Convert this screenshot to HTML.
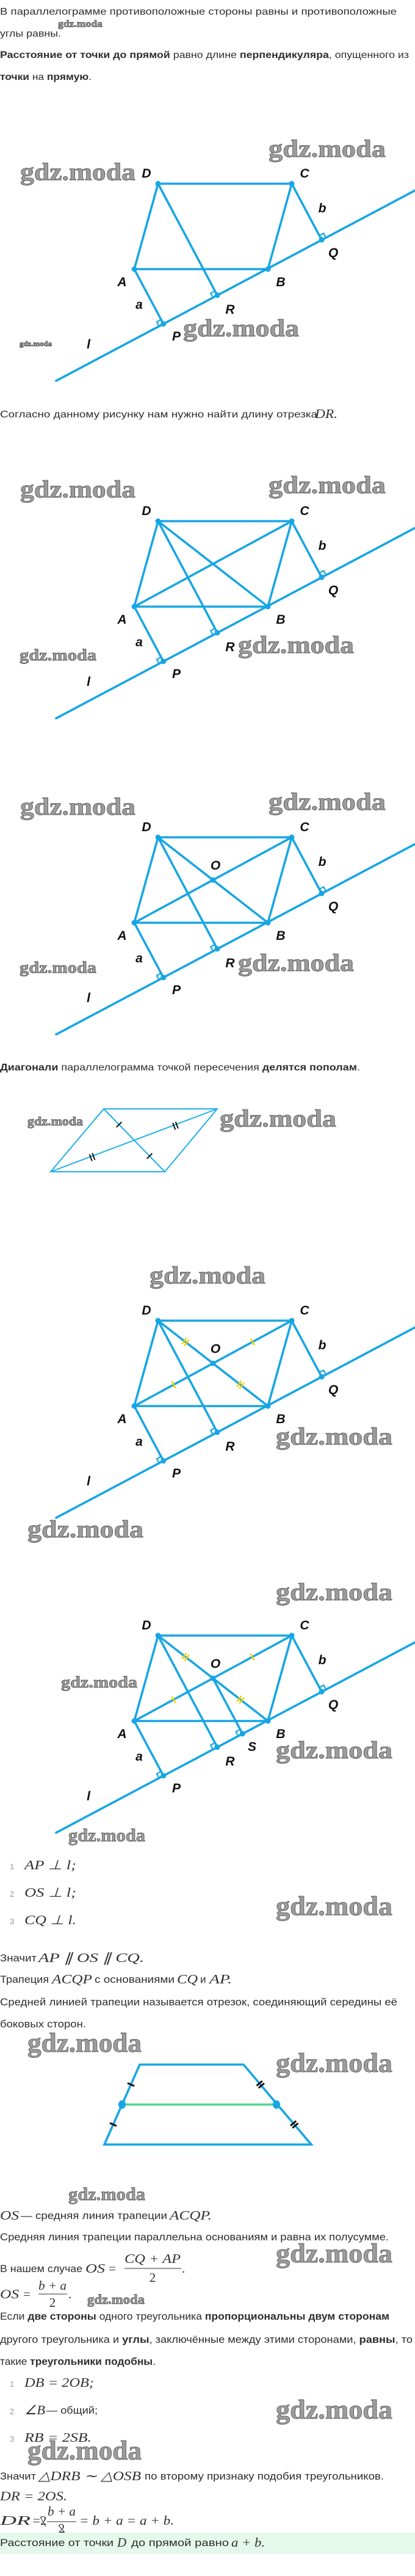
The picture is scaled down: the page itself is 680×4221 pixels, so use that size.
<!DOCTYPE html>
<html><head><meta charset="utf-8"><style>
html,body{margin:0;padding:0;background:#fff;}
svg{display:block;}
.t{font-family:"Liberation Sans",sans-serif;font-size:16px;fill:#2e2e2e;}
.tl{font-family:"Liberation Sans",sans-serif;font-size:17px;fill:#2e2e2e;}
.b{font-weight:bold;}
.m{font-family:"Liberation Serif",serif;font-style:italic;font-size:21px;fill:#333;}
.mr{font-family:"Liberation Serif",serif;font-size:21px;fill:#333;}
.n{font-family:"Liberation Sans",sans-serif;font-size:13px;fill:#999;}
.wm{font-family:"Liberation Serif",serif;font-weight:bold;fill:#9c9c9c;stroke:#4a4a4a;stroke-width:0.7;}
.lb{font-family:"Liberation Sans",sans-serif;font-style:italic;font-weight:bold;font-size:21px;fill:#111;text-anchor:middle;}
.ln{stroke:#17a6e4;stroke-width:3.6;fill:none;stroke-linecap:round;}
.sq{stroke:#17a6e4;stroke-width:2.2;fill:none;}
.dot{fill:#17a6e4;}
.yt{stroke:#f2d000;stroke-width:2.6;}
</style></head><body>
<svg width="680" height="4221" viewBox="0 0 680 4221" xmlns="http://www.w3.org/2000/svg">
<defs>
<g id="fb">
<line class="ln" x1="92" y1="624" x2="682" y2="311"/>
<polygon class="ln" points="259,301 478,301 439,441 220,441"/>
<line class="ln" x1="220" y1="441" x2="267.7" y2="530.7"/>
<line class="ln" x1="259" y1="301" x2="356" y2="483.8"/>
<line class="ln" x1="478" y1="301" x2="527" y2="393"/>
<polyline class="sq" points="260.6,534.5 256.9,527.4 264,523.6"/>
<polyline class="sq" points="348.9,487.6 345.2,480.5 352.3,476.7"/>
<polyline class="sq" points="534.1,389.3 530.3,382.2 523.3,385.9"/>
<circle class="dot" cx="259" cy="301" r="4.5"/><circle class="dot" cx="478" cy="301" r="4.5"/>
<circle class="dot" cx="220" cy="441" r="4.5"/><circle class="dot" cx="439" cy="441" r="4.5"/>
<circle class="dot" cx="267.7" cy="530.7" r="4.5"/><circle class="dot" cx="356" cy="483.8" r="4.5"/>
<circle class="dot" cx="527" cy="393" r="4.5"/>
</g>
<g id="fd">
<line class="ln" x1="220" y1="441" x2="478" y2="301"/>
<line class="ln" x1="259" y1="301" x2="439" y2="441"/>
</g>
<g id="fy">
<line class="yt" x1="305.7" y1="329.8" x2="298.3" y2="339.2"/>
<line class="yt" x1="309.7" y1="332.8" x2="302.3" y2="342.2"/>
<line class="yt" x1="395.7" y1="399.8" x2="388.3" y2="409.2"/>
<line class="yt" x1="399.7" y1="402.8" x2="392.3" y2="412.2"/>
<line class="yt" x1="281.6" y1="400.7" x2="287.4" y2="411.3"/>
<line class="yt" x1="410.6" y1="330.7" x2="416.4" y2="341.3"/>
</g>
</defs>

<!-- top text -->
<text class="t" x="0" y="24" textLength="650" lengthAdjust="spacingAndGlyphs">В параллелограмме противоположные стороны равны и противоположные</text>
<text class="t" x="0" y="60" textLength="100" lengthAdjust="spacingAndGlyphs">углы равны.</text>
<text class="t" x="0" y="95" textLength="670" lengthAdjust="spacingAndGlyphs"><tspan class="b">Расстояние от точки до прямой</tspan> равно длине <tspan class="b">перпендикуляра</tspan>, опущенного из</text>
<text class="t" x="0" y="131" textLength="150" lengthAdjust="spacingAndGlyphs"><tspan class="b">точки</tspan> на <tspan class="b">прямую</tspan>.</text>

<!-- fig1 -->
<use href="#fb"/>
<g>
<text class="lb" x="240" y="291">D</text><text class="lb" x="499" y="291">C</text>
<text class="lb" x="528" y="348">b</text><text class="lb" x="546" y="421">Q</text>
<text class="lb" x="200" y="469">A</text><text class="lb" x="460" y="469">B</text>
<text class="lb" x="228" y="506">a</text><text class="lb" x="377" y="514">R</text>
<text class="lb" x="289" y="558">P</text><text class="lb" x="145" y="571">l</text>
</g>

<text class="t" x="0" y="684" textLength="520" lengthAdjust="spacingAndGlyphs">Согласно данному рисунку нам нужно найти длину отрезка </text>
<text class="m" x="516" y="685" textLength="37" lengthAdjust="spacingAndGlyphs">DR.</text>

<!-- fig2 -->
<use href="#fb" y="553"/><use href="#fd" y="553"/>
<g transform="translate(0,553)">
<text class="lb" x="240" y="291">D</text><text class="lb" x="499" y="291">C</text>
<text class="lb" x="528" y="348">b</text><text class="lb" x="546" y="421">Q</text>
<text class="lb" x="200" y="469">A</text><text class="lb" x="460" y="469">B</text>
<text class="lb" x="228" y="506">a</text><text class="lb" x="377" y="514">R</text>
<text class="lb" x="289" y="558">P</text><text class="lb" x="145" y="571">l</text>
</g>

<!-- fig3 -->
<use href="#fb" y="1071"/><use href="#fd" y="1071"/>
<circle class="dot" cx="349" cy="1442" r="4.5"/>
<g transform="translate(0,1071)">
<text class="lb" x="240" y="291">D</text><text class="lb" x="499" y="291">C</text>
<text class="lb" x="528" y="348">b</text><text class="lb" x="546" y="421">Q</text>
<text class="lb" x="200" y="469">A</text><text class="lb" x="460" y="469">B</text>
<text class="lb" x="228" y="506">a</text><text class="lb" x="377" y="514">R</text>
<text class="lb" x="289" y="558">P</text><text class="lb" x="145" y="571">l</text>
<text class="lb" x="353" y="354">O</text>
</g>

<text class="t" x="0" y="1754" textLength="590" lengthAdjust="spacingAndGlyphs"><tspan class="b">Диагонали</tspan> параллелограмма точкой пересечения <tspan class="b">делятся пополам</tspan>.</text>

<!-- small parallelogram -->
<g stroke="#1fb0e8" stroke-width="2" fill="none">
<polygon points="170,1817 356,1817 270,1920 83,1920"/>
<line x1="83" y1="1920" x2="356" y2="1817"/>
<line x1="170" y1="1817" x2="270" y2="1920"/>
</g>
<g stroke="#111" stroke-width="2">
<line x1="199.3" y1="1838.5" x2="190.7" y2="1847"/>
<line x1="249.3" y1="1890" x2="240.7" y2="1898.5"/>
<line x1="151.2" y1="1889.5" x2="155.4" y2="1900.7"/>
<line x1="146.6" y1="1891.3" x2="150.8" y2="1902.5"/>
<line x1="287.7" y1="1838" x2="291.9" y2="1849.2"/>
<line x1="283.1" y1="1839.8" x2="287.3" y2="1851"/>
</g>

<!-- fig4 -->
<use href="#fb" y="1863"/><use href="#fd" y="1863"/><use href="#fy" y="1863"/>
<circle class="dot" cx="349" cy="2234" r="4.5"/>
<g transform="translate(0,1863)">
<text class="lb" x="240" y="291">D</text><text class="lb" x="499" y="291">C</text>
<text class="lb" x="528" y="348">b</text><text class="lb" x="546" y="421">Q</text>
<text class="lb" x="200" y="469">A</text><text class="lb" x="460" y="469">B</text>
<text class="lb" x="228" y="506">a</text><text class="lb" x="377" y="514">R</text>
<text class="lb" x="289" y="558">P</text><text class="lb" x="145" y="571">l</text>
<text class="lb" x="353" y="354">O</text>
</g>

<!-- fig5 -->
<use href="#fb" y="2379"/><use href="#fd" y="2379"/><use href="#fy" y="2379"/>
<g transform="translate(0,2379)">
<line class="ln" x1="349" y1="371" x2="397.3" y2="461.9"/>
<polyline class="sq" points="390.2,465.7 386.5,458.6 393.6,454.8"/>
<circle class="dot" cx="349" cy="371" r="4.5"/>
<circle class="dot" cx="397.3" cy="461.9" r="4.5"/>
<text class="lb" x="240" y="291">D</text><text class="lb" x="499" y="291">C</text>
<text class="lb" x="528" y="348">b</text><text class="lb" x="546" y="421">Q</text>
<text class="lb" x="200" y="469">A</text><text class="lb" x="460" y="469">B</text>
<text class="lb" x="228" y="506">a</text><text class="lb" x="377" y="514">R</text>
<text class="lb" x="289" y="558">P</text><text class="lb" x="145" y="571">l</text>
<text class="lb" x="353" y="354">O</text><text class="lb" x="413" y="490">S</text>
</g>

<!-- list 1 -->
<text class="n" x="16" y="3063">1</text><text class="m" x="40" y="3063" textLength="85" lengthAdjust="spacingAndGlyphs">AP  ⊥  l;</text>
<text class="n" x="16" y="3108">2</text><text class="m" x="40" y="3108" textLength="85" lengthAdjust="spacingAndGlyphs">OS  ⊥  l;</text>
<text class="n" x="16" y="3153">3</text><text class="m" x="40" y="3153" textLength="85" lengthAdjust="spacingAndGlyphs">CQ  ⊥  l.</text>

<text class="tl" x="0" y="3214" textLength="60" lengthAdjust="spacingAndGlyphs">Значит</text>
<text class="m" x="63" y="3215" textLength="173" lengthAdjust="spacingAndGlyphs">AP ∥ OS ∥ CQ.</text>
<text class="tl" x="0" y="3249" textLength="80" lengthAdjust="spacingAndGlyphs">Трапеция</text>
<text class="m" x="85" y="3250" textLength="66" lengthAdjust="spacingAndGlyphs">ACQP</text>
<text class="tl" x="155" y="3249" textLength="131" lengthAdjust="spacingAndGlyphs">с основаниями</text>
<text class="m" x="290" y="3250" textLength="34" lengthAdjust="spacingAndGlyphs">CQ</text>
<text class="tl" x="328" y="3249">и</text>
<text class="m" x="343" y="3250" textLength="37" lengthAdjust="spacingAndGlyphs">AP.</text>
<text class="tl" x="0" y="3286" textLength="651" lengthAdjust="spacingAndGlyphs">Средней линией трапеции называется отрезок, соединяющий середины её</text>
<text class="tl" x="0" y="3322" textLength="141" lengthAdjust="spacingAndGlyphs">боковых сторон.</text>

<!-- trapezoid -->
<polygon points="229,3383 399,3383 510,3514 171,3514" fill="none" stroke="#17a6e4" stroke-width="3.6"/>
<line x1="200" y1="3448.5" x2="454.5" y2="3448.5" stroke="#4fd68d" stroke-width="3.6"/>
<ellipse class="dot" cx="200" cy="3448.5" rx="6" ry="7"/>
<ellipse class="dot" cx="453" cy="3448.5" rx="6" ry="7"/>
<g stroke="#111" stroke-width="3">
<line x1="209" y1="3413.3" x2="220" y2="3418.1"/>
<line x1="180" y1="3478.8" x2="191" y2="3483.6"/>
<line x1="420.5" y1="3417.6" x2="429.7" y2="3409.8"/>
<line x1="423.7" y1="3421.4" x2="432.9" y2="3413.6"/>
<line x1="476" y1="3483.1" x2="485.2" y2="3475.3"/>
<line x1="479.2" y1="3486.9" x2="488.4" y2="3479.1"/>
</g>

<text class="m" x="0" y="3637" textLength="31" lengthAdjust="spacingAndGlyphs">OS</text>
<text class="tl" x="34" y="3636" textLength="240" lengthAdjust="spacingAndGlyphs">— средняя линия трапеции</text>
<text class="m" x="278" y="3637" textLength="69" lengthAdjust="spacingAndGlyphs">ACQP.</text>
<text class="tl" x="0" y="3671" textLength="637" lengthAdjust="spacingAndGlyphs">Средняя линия трапеции параллельна основаниям и равна их полусумме.</text>

<text class="tl" x="0" y="3723" textLength="135" lengthAdjust="spacingAndGlyphs">В нашем случае</text>
<text class="m" x="140" y="3724" textLength="32" lengthAdjust="spacingAndGlyphs">OS</text>
<text class="mr" x="178" y="3724">=</text>
<text class="m" x="250" y="3708" text-anchor="middle" textLength="92" lengthAdjust="spacingAndGlyphs">CQ + AP</text>
<line x1="204" y1="3717" x2="297" y2="3717" stroke="#333" stroke-width="1"/>
<text class="mr" x="250" y="3739" text-anchor="middle">2</text>
<text class="mr" x="298" y="3724">.</text>

<text class="m" x="0" y="3766" textLength="31" lengthAdjust="spacingAndGlyphs">OS</text>
<text class="mr" x="38" y="3766">=</text>
<text class="m" x="86" y="3752" text-anchor="middle" textLength="46" lengthAdjust="spacingAndGlyphs">b + a</text>
<line x1="63" y1="3759" x2="110" y2="3759" stroke="#333" stroke-width="1"/>
<text class="mr" x="86" y="3780" text-anchor="middle">2</text>
<text class="mr" x="112" y="3766">.</text>

<text class="tl" x="0" y="3801" textLength="638" lengthAdjust="spacingAndGlyphs">Если <tspan class="b">две стороны</tspan> одного треугольника <tspan class="b">пропорциональны двум сторонам</tspan></text>
<text class="tl" x="0" y="3839" textLength="676" lengthAdjust="spacingAndGlyphs">другого треугольника и <tspan class="b">углы</tspan>, заключённые между этими сторонами, <tspan class="b">равны</tspan>, то</text>
<text class="tl" x="0" y="3875" textLength="255" lengthAdjust="spacingAndGlyphs">такие <tspan class="b">треугольники подобны</tspan>.</text>

<text class="n" x="16" y="3911">1</text><text class="m" x="40" y="3911" textLength="114" lengthAdjust="spacingAndGlyphs">DB = 2OB;</text>
<text class="n" x="16" y="3956">2</text><text class="m" x="40" y="3956" textLength="34" lengthAdjust="spacingAndGlyphs">∠B</text><text class="tl" x="76" y="3955" textLength="84" lengthAdjust="spacingAndGlyphs">— общий;</text>
<text class="n" x="16" y="4001">3</text><text class="m" x="40" y="4001" textLength="110" lengthAdjust="spacingAndGlyphs">RB = 2SB.</text>

<text class="tl" x="0" y="4063" textLength="59" lengthAdjust="spacingAndGlyphs">Значит</text>
<text class="m" x="63" y="4064" textLength="168" lengthAdjust="spacingAndGlyphs">△DRB ∼ △OSB</text>
<text class="tl" x="237" y="4063" textLength="392" lengthAdjust="spacingAndGlyphs">по второму признаку подобия треугольников.</text>
<text class="m" x="0" y="4097" textLength="110" lengthAdjust="spacingAndGlyphs">DR = 2OS.</text>

<text class="m" x="0" y="4137" textLength="50" lengthAdjust="spacingAndGlyphs">DR</text>
<text class="mr" x="54" y="4137">=</text>
<text class="mr" x="66" y="4137">2</text>
<line x1="66" y1="4124" x2="75" y2="4140" stroke="#333" stroke-width="1"/>
<text class="m" x="101" y="4122" text-anchor="middle" textLength="46" lengthAdjust="spacingAndGlyphs">b + a</text>
<line x1="77" y1="4132" x2="125" y2="4132" stroke="#333" stroke-width="1"/>
<text class="mr" x="101" y="4150" text-anchor="middle" font-size="16">2</text>
<line x1="96" y1="4138" x2="106" y2="4150" stroke="#333" stroke-width="1"/>
<text class="m" x="130" y="4137" textLength="155" lengthAdjust="spacingAndGlyphs">= b + a = a + b.</text>

<rect x="0" y="4150" width="680" height="35" fill="#e4f8eb"/>
<text class="tl" x="0" y="4172" textLength="186" lengthAdjust="spacingAndGlyphs">Расстояние от точки</text>
<text class="m" x="192" y="4173" font-size="22">D</text>
<text class="tl" x="215" y="4172" textLength="160" lengthAdjust="spacingAndGlyphs">до прямой равно</text>
<text class="m" x="379" y="4173" textLength="55" lengthAdjust="spacingAndGlyphs">a + b.</text>

<!-- watermarks -->
<g class="wm">
<text x="95" y="44" font-size="16" textLength="73" lengthAdjust="spacingAndGlyphs">gdz.moda</text>
<text x="33" y="295" font-size="40" textLength="189" lengthAdjust="spacingAndGlyphs">gdz.moda</text>
<text x="440" y="257" font-size="40" textLength="192" lengthAdjust="spacingAndGlyphs">gdz.moda</text>
<text x="300" y="551" font-size="40" textLength="190" lengthAdjust="spacingAndGlyphs">gdz.moda</text>
<text x="32" y="567" font-size="12" textLength="53" lengthAdjust="spacingAndGlyphs">gdz.moda</text>
<text x="33" y="815" font-size="40" textLength="189" lengthAdjust="spacingAndGlyphs">gdz.moda</text>
<text x="440" y="808" font-size="40" textLength="192" lengthAdjust="spacingAndGlyphs">gdz.moda</text>
<text x="390" y="1070" font-size="40" textLength="190" lengthAdjust="spacingAndGlyphs">gdz.moda</text>
<text x="32" y="1082" font-size="26" textLength="126" lengthAdjust="spacingAndGlyphs">gdz.moda</text>
<text x="33" y="1335" font-size="40" textLength="189" lengthAdjust="spacingAndGlyphs">gdz.moda</text>
<text x="440" y="1327" font-size="40" textLength="192" lengthAdjust="spacingAndGlyphs">gdz.moda</text>
<text x="390" y="1591" font-size="40" textLength="190" lengthAdjust="spacingAndGlyphs">gdz.moda</text>
<text x="32" y="1594" font-size="26" textLength="126" lengthAdjust="spacingAndGlyphs">gdz.moda</text>
<text x="45" y="1844" font-size="20" textLength="91" lengthAdjust="spacingAndGlyphs">gdz.moda</text>
<text x="360" y="1846" font-size="40" textLength="191" lengthAdjust="spacingAndGlyphs">gdz.moda</text>
<text x="245" y="2103" font-size="40" textLength="190" lengthAdjust="spacingAndGlyphs">gdz.moda</text>
<text x="452" y="2367" font-size="40" textLength="191" lengthAdjust="spacingAndGlyphs">gdz.moda</text>
<text x="45" y="2519" font-size="40" textLength="190" lengthAdjust="spacingAndGlyphs">gdz.moda</text>
<text x="452" y="2622" font-size="40" textLength="191" lengthAdjust="spacingAndGlyphs">gdz.moda</text>
<text x="100" y="2765" font-size="26" textLength="125" lengthAdjust="spacingAndGlyphs">gdz.moda</text>
<text x="452" y="2881" font-size="40" textLength="191" lengthAdjust="spacingAndGlyphs">gdz.moda</text>
<text x="112" y="3017" font-size="30" textLength="126" lengthAdjust="spacingAndGlyphs">gdz.moda</text>
<text x="452" y="3138" font-size="44" textLength="191" lengthAdjust="spacingAndGlyphs">gdz.moda</text>
<text x="45" y="3362" font-size="44" textLength="187" lengthAdjust="spacingAndGlyphs">gdz.moda</text>
<text x="452" y="3395" font-size="44" textLength="191" lengthAdjust="spacingAndGlyphs">gdz.moda</text>
<text x="112" y="3605" font-size="30" textLength="126" lengthAdjust="spacingAndGlyphs">gdz.moda</text>
<text x="452" y="3707" font-size="44" textLength="191" lengthAdjust="spacingAndGlyphs">gdz.moda</text>
<text x="143" y="3775" font-size="22" textLength="94" lengthAdjust="spacingAndGlyphs">gdz.moda</text>
<text x="452" y="3963" font-size="44" textLength="191" lengthAdjust="spacingAndGlyphs">gdz.moda</text>
<text x="45" y="4030" font-size="44" textLength="187" lengthAdjust="spacingAndGlyphs">gdz.moda</text>
</g>
</svg>
</body></html>
